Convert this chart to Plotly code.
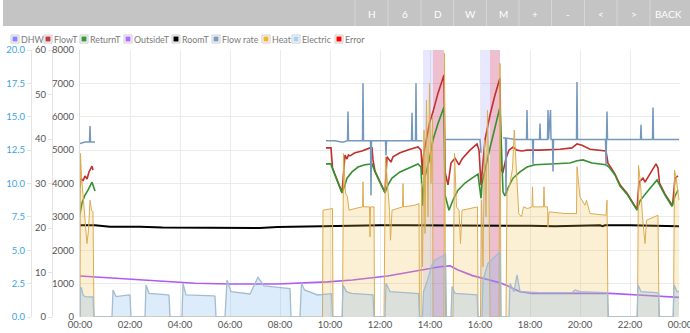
import datetime as dt
import plotly.graph_objects as go

W, H = 690, 333
DAY = dt.datetime(2024, 1, 15)
FONT = "Lato"

# ---------------- series data: (hour of day, value) ----------------
# FlowT / ReturnT / RoomT / OutsideT in degC
flow_t = [
    (0.00, 29.0), (0.04, 31.2), (0.12, 30.6), (0.20, 31.7), (0.28, 31.0), (0.36, 32.6),
    (0.48, 33.9), (0.52, 33.0), (0.53, None),
    (9.84, 38.0), (10.04, 38.0), (10.10, 33.5), (10.28, 31.0), (10.40, 29.2), (10.48, 28.0),
    (10.60, 36.4), (10.68, 35.5), (10.74, 36.4), (10.80, 36.2), (11.00, 36.9), (11.28, 37.3),
    (11.60, 38.0), (11.68, 38.0), (11.72, 35.3), (11.80, 32.8), (12.00, 30.3), (12.20, 28.0),
    (12.28, 36.0), (12.36, 35.5), (12.44, 34.8), (12.52, 36.0), (12.80, 36.9), (13.20, 37.7),
    (13.52, 38.2), (13.64, 37.5), (13.70, 32.0), (13.74, 36.4), (13.86, 40.4), (13.98, 43.6),
    (14.12, 46.1), (14.32, 50.3), (14.56, 54.4), (14.60, 32.6), (14.72, 29.7), (14.84, 34.6),
    (15.00, 35.7), (15.16, 34.2), (15.28, 35.5), (15.60, 37.5), (15.88, 38.9), (15.96, 37.5),
    (16.04, 29.7), (16.20, 39.8), (16.40, 45.4), (16.60, 49.9), (16.80, 53.7), (16.84, 33.0),
    (16.92, 32.6), (17.04, 35.7), (17.16, 37.5), (17.32, 38.2), (17.48, 37.5), (17.68, 37.3),
    (17.88, 37.5), (18.40, 37.5), (19.20, 37.7), (19.68, 38.0), (19.88, 38.9), (20.08, 38.6),
    (20.40, 37.7), (20.80, 37.5), (21.04, 37.3), (21.12, 34.5), (21.20, 33.9), (21.40, 32.1),
    (21.60, 29.7), (21.88, 27.8), (22.28, 24.2), (22.36, 30.3), (22.52, 31.2), (22.60, 30.3),
    (22.80, 32.1), (23.04, 34.4), (23.12, 33.5), (23.18, 30.1), (23.40, 27.6), (23.70, 25.0),
    (23.80, 31.2), (23.92, 31.7),
]
return_t = [
    (0.00, 23.1), (0.08, 25.6), (0.20, 27.4), (0.32, 28.5), (0.48, 30.3), (0.60, 28.3), (0.61, None),
    (9.84, 34.4), (10.04, 34.4), (10.12, 33.0), (10.28, 30.8), (10.40, 29.0), (10.48, 27.9),
    (10.60, 29.7), (10.68, 31.2), (10.88, 32.6), (11.12, 33.7), (11.40, 34.2), (11.68, 34.4),
    (11.80, 32.6), (12.00, 30.1), (12.20, 27.9), (12.32, 29.7), (12.48, 31.2), (12.80, 32.6),
    (13.20, 33.7), (13.52, 34.4), (13.64, 33.7), (13.70, 25.0), (13.76, 30.8), (13.96, 35.0),
    (14.12, 39.8), (14.32, 43.5), (14.56, 47.2), (14.60, 27.4), (14.76, 24.0), (14.92, 26.3),
    (15.12, 28.5), (15.40, 30.1), (15.68, 31.2), (15.92, 32.1), (16.04, 26.7), (16.08, 30.0),
    (16.40, 38.0), (16.60, 42.8), (16.80, 47.2), (16.92, 28.1), (17.00, 27.2), (17.12, 29.0),
    (17.32, 31.2), (17.60, 32.6), (17.88, 33.7), (18.20, 34.2), (18.80, 34.4), (19.60, 34.6),
    (19.88, 35.1), (20.12, 35.3), (20.48, 34.6), (21.04, 34.2), (21.16, 33.7), (21.40, 31.9),
    (21.60, 29.4), (21.88, 27.6), (22.28, 24.0), (22.40, 26.1), (22.68, 28.1), (23.08, 30.8),
    (23.16, 29.9), (23.40, 27.4), (23.68, 24.9), (23.80, 27.2), (23.92, 28.5),
]
room_t = [
    (0.0, 20.6), (0.6, 20.6), (1.2, 20.3), (2.4, 20.3), (3.3, 20.1), (4.2, 20.1), (5.2, 20.0),
    (6.5, 20.0), (7.2, 20.0), (7.9, 20.2), (9.0, 20.3), (10.0, 20.5), (11.0, 20.5), (12.0, 20.6),
    (13.0, 20.6), (14.0, 20.6), (15.0, 20.6), (16.0, 20.6), (17.0, 20.5), (18.0, 20.5),
    (19.0, 20.4), (20.0, 20.5), (20.8, 20.6), (20.9, 20.4), (21.0, 20.6), (22.0, 20.6),
    (23.0, 20.5), (23.96, 20.4),
]
outside_t = [
    (0.0, 9.2), (1.25, 8.8), (2.5, 8.4), (3.25, 8.1), (4.6, 7.6), (6.0, 7.4), (7.9, 7.4),
    (9.9, 7.9), (10.9, 8.3), (12.3, 9.2), (13.6, 10.6), (14.4, 11.3), (14.8, 11.5), (15.1, 10.6),
    (15.7, 9.3), (16.4, 8.3), (16.8, 7.7), (17.1, 7.0), (17.6, 5.7), (18.1, 5.3), (19.6, 5.3),
    (21.2, 5.3), (22.5, 4.9), (23.96, 4.4),
]
# Flow rate in L/min
flow_rate = [
    (0.00, 13.0), (0.20, 13.1), (0.38, 13.1), (0.40, 14.3), (0.42, 13.1), (0.60, 13.1), (0.61, None),
    (9.84, 13.2), (10.20, 13.2), (10.50, 13.1), (10.70, 13.2), (10.72, 15.4), (10.74, 13.2),
    (11.00, 13.2), (11.30, 13.2), (11.32, 17.5), (11.34, 13.2), (11.62, 13.2), (11.64, 9.1),
    (11.66, 13.2), (12.00, 13.2), (12.22, 13.2), (12.24, 12.1), (12.26, 13.2), (12.60, 13.2),
    (13.00, 13.2), (13.26, 13.2), (13.28, 15.3), (13.30, 13.2), (13.42, 13.2), (13.44, 17.5),
    (13.46, 13.2), (13.70, 13.2), (13.71, None),
    (14.58, 13.3), (15.00, 13.3), (15.50, 13.3), (16.00, 13.3), (16.04, 12.3), (16.05, None),
    (16.92, 13.4), (17.02, 13.4), (17.04, 9.1), (17.06, 13.4), (17.40, 13.3), (17.86, 13.3),
    (17.88, 15.5), (17.90, 13.3), (18.10, 13.3), (18.12, 11.4), (18.14, 13.3), (18.38, 13.3),
    (18.40, 14.5), (18.42, 13.3), (18.70, 13.3), (18.72, 15.5), (18.74, 13.3), (18.82, 15.5),
    (18.84, 13.3), (18.90, 13.3), (18.92, 10.9), (18.94, 13.3), (19.50, 13.3), (19.86, 13.3),
    (19.88, 17.6), (19.90, 13.3), (20.50, 13.3), (21.02, 13.3), (21.04, 11.3), (21.06, 13.3),
    (21.08, 15.4), (21.10, 13.3), (21.60, 13.3), (22.20, 13.3), (22.42, 13.3), (22.44, 14.4),
    (22.46, 13.3), (22.90, 13.3), (22.92, 15.7), (22.94, 13.3), (23.50, 13.3), (23.96, 13.3),
]
# Heat output and electric input in W
heat = [
    (0.00, 0), (0.02, 4900), (0.06, 4200), (0.12, 3600), (0.20, 2900), (0.28, 2200), (0.34, 2600),
    (0.40, 3500), (0.46, 3200), (0.52, 3150), (0.56, 0),
    (9.70, 0), (9.72, 3200), (10.10, 3250), (10.12, 0),
    (10.50, 0), (10.54, 4900), (10.62, 3700), (10.70, 3600), (10.76, 3200), (11.00, 3250),
    (11.30, 3300), (11.32, 4050), (11.34, 3300), (11.58, 3300), (11.60, 2400), (11.62, 3300),
    (11.76, 3300), (11.78, 0),
    (12.16, 0), (12.22, 4800), (12.38, 3200), (12.42, 2300), (12.48, 3200), (12.90, 3300),
    (12.92, 4000), (12.94, 3300), (13.40, 3350), (13.56, 3400), (13.58, 0),
    (13.64, 0), (13.66, 4000), (13.70, 1500), (13.76, 5600), (13.80, 2500), (13.86, 6500),
    (13.92, 3000), (13.98, 7000), (14.04, 4000), (14.10, 6000), (14.12, 0), (14.56, 0),
    (14.58, 7900), (14.62, 0),
    (14.92, 0), (14.98, 4900), (15.06, 3300), (15.16, 3200), (15.22, 2200), (15.28, 3200),
    (15.60, 3250), (15.90, 3300), (15.92, 0),
    (16.02, 0), (16.06, 3500), (16.12, 1500), (16.18, 5300), (16.24, 3000), (16.30, 6200),
    (16.36, 4000), (16.40, 0), (16.76, 0), (16.80, 7600), (16.84, 0),
    (17.04, 0), (17.08, 3700), (17.20, 4000), (17.30, 4450), (17.37, 5600), (17.42, 4800),
    (17.48, 3800), (17.55, 3100), (17.66, 3000), (17.74, 3300), (17.90, 3250), (18.08, 3300),
    (18.10, 3900), (18.12, 3300), (18.54, 3300), (18.56, 3900), (18.58, 3300), (18.70, 3300),
    (18.72, 2700), (18.76, 3150), (19.40, 3100), (19.86, 3100), (19.88, 4500), (20.00, 3600),
    (20.20, 3350), (20.26, 3500), (20.40, 3100), (21.04, 3050), (21.08, 3500), (21.12, 0),
    (22.30, 0), (22.34, 4550), (22.42, 4000), (22.50, 3000), (22.60, 2200), (22.66, 2900),
    (23.12, 3050), (23.16, 0),
    (23.74, 0), (23.78, 4400), (23.84, 4200), (23.90, 3800), (23.96, 3500),
]
electric = [
    (0.00, 0), (0.02, 900), (0.06, 860), (0.12, 660), (0.20, 610), (0.45, 610), (0.52, 600), (0.56, 0),
    (1.28, 0), (1.32, 810), (1.44, 610), (1.96, 660), (2.00, 650), (2.04, 0),
    (2.60, 0), (2.64, 960), (2.76, 710), (3.52, 660), (3.56, 650), (3.60, 0),
    (4.08, 0), (4.12, 1010), (4.24, 660), (5.36, 630), (5.40, 620), (5.44, 0),
    (5.80, 0), (5.88, 1110), (6.04, 760), (6.80, 690), (7.12, 1190), (7.36, 930), (8.30, 860),
    (8.40, 850), (8.44, 0),
    (8.80, 0), (8.86, 1010), (8.98, 810), (9.50, 660), (9.90, 690), (10.06, 700), (10.10, 0),
    (10.48, 0), (10.52, 960), (10.66, 760), (10.86, 710), (11.72, 660), (11.76, 0),
    (12.20, 0), (12.24, 1010), (12.40, 760), (13.44, 710), (13.54, 700), (13.58, 0),
    (13.70, 0), (13.74, 760), (13.90, 1100), (14.10, 1600), (14.20, 1710), (14.56, 1850),
    (14.62, 1900), (14.66, 0),
    (14.84, 0), (14.88, 910), (15.00, 710), (15.88, 660), (15.92, 0),
    (16.08, 0), (16.12, 1110), (16.32, 1610), (16.80, 1950), (16.84, 0),
    (17.16, 0), (17.20, 1010), (17.36, 760), (17.48, 1260), (17.60, 760), (18.40, 730),
    (19.68, 730), (19.80, 810), (20.00, 760), (21.04, 730), (21.10, 720), (21.14, 0),
    (22.28, 0), (22.32, 960), (22.44, 760), (23.04, 730), (23.14, 720), (23.18, 0),
    (23.72, 0), (23.76, 960), (23.88, 760), (23.96, 760),
]
# State periods (start hour, end hour)
dhw_periods = [(13.72, 14.12), (16.04, 16.40)]
error_periods = [(14.12, 14.56), (16.40, 16.80)]

legend_items = ["DHW", "FlowT", "ReturnT", "OutsideT", "RoomT", "Flow rate", "Heat", "Electric", "Error"]
buttons = ["H", "6", "D", "W", "M", "+", "-", "<", ">", "BACK"]

# ---------------- styling ----------------
COL = {
    "DHW": "#8585ff", "FlowT": "#c23b3b", "ReturnT": "#3d963d", "OutsideT": "#b36bff",
    "RoomT": "#000000", "Flow rate": "#7c9cbf", "Heat": "#efb534", "Electric": "#a6d3f2",
    "Error": "#ff0000",
}


def ts(h):
    return DAY + dt.timedelta(hours=h)


def split(series):
    return [ts(h) for h, _ in series], [v for _, v in series]


def fx(x):  # pixel -> paper x
    return x / W


def fy(y):  # pixel -> paper y
    return (H - y) / H


fig = go.Figure()

# state bands as filled traces on a hidden 0..1 axis, drawn underneath everything else
for periods, color in [(dhw_periods, "rgba(120,120,255,0.18)"),
                       (error_periods, "rgba(200,60,110,0.33)")]:
    bx, by = [], []
    for a, b in periods:
        bx += [ts(a), ts(a), ts(b), ts(b), ts(b)]
        by += [0, 1, 1, 0, None]
    fig.add_trace(go.Scatter(x=bx, y=by, mode="lines", fill="toself", fillcolor=color,
                             line=dict(width=0), hoverinfo="skip", yaxis="y"))

x, y = split(heat)
fig.add_trace(go.Scatter(x=x, y=y, mode="lines", fill="tozeroy",
                         fillcolor="rgba(240,185,60,0.22)",
                         line=dict(color="#dcac52", width=1), yaxis="y4"))
x, y = split(electric)
fig.add_trace(go.Scatter(x=x, y=y, mode="lines", fill="tozeroy",
                         fillcolor="rgba(120,180,235,0.25)",
                         line=dict(color="#a3bccf", width=1.3), yaxis="y4"))

for series, color, width in [(outside_t, "#ad5cf2", 1.6), (room_t, "#000000", 2),
                             (flow_t, "#c0302e", 1.6), (return_t, "#35902f", 1.6)]:
    x, y = split(series)
    fig.add_trace(go.Scatter(x=x, y=y, mode="lines", connectgaps=False,
                             line=dict(color=color, width=width), yaxis="y2"))

x, y = split(flow_rate)
fig.add_trace(go.Scatter(x=x, y=y, mode="lines", connectgaps=False,
                         line=dict(color="#7598bd", width=1.5), yaxis="y3"))

shapes = []
annotations = []

# toolbar
shapes.append(dict(type="rect", xref="paper", yref="paper", x0=fx(3), x1=1, y0=fy(26), y1=1,
                   fillcolor="#c4c4c4", line=dict(width=0)))
sep_x = [355, 388, 421, 453.5, 486.5, 519, 551.5, 584.5, 617, 650]
btn_x = [372.5, 405, 437.5, 470, 503, 535, 568, 601, 634, 668.5]
for sx in sep_x:
    shapes.append(dict(type="line", xref="paper", yref="paper", x0=fx(sx), x1=fx(sx),
                       y0=fy(26), y1=1, line=dict(color="#d6d6d6", width=1)))
for label, bx in zip(buttons, btn_x):
    annotations.append(dict(text=label, x=fx(bx), y=fy(13.5), xref="paper", yref="paper",
                            showarrow=False, xanchor="center", yanchor="middle",
                            font=dict(family=FONT, size=10, color="#ffffff")))

# legend row
sq_x = [11, 44, 80, 124, 172, 212, 262, 292, 335]
for label, sx in zip(legend_items, sq_x):
    shapes.append(dict(type="rect", xref="paper", yref="paper", x0=fx(sx), x1=fx(sx + 8),
                       y0=fy(43), y1=fy(35), fillcolor="#ffffff",
                       line=dict(color="#cccccc", width=1)))
    shapes.append(dict(type="rect", xref="paper", yref="paper", x0=fx(sx + 1.5), x1=fx(sx + 6.5),
                       y0=fy(41.5), y1=fy(36.5), fillcolor=COL[label],
                       line=dict(width=0)))
    annotations.append(dict(text=label, x=fx(sx + 8), y=fy(39.5), xref="paper", yref="paper",
                            showarrow=False, xanchor="left", yanchor="middle",
                            font=dict(family=FONT, size=8.9, color="#7a7a7a")))

tick_font = dict(family=FONT, size=9.5, color="#555555")
fig.update_layout(
    width=W, height=H,
    margin=dict(l=0, r=0, t=0, b=0),
    paper_bgcolor="#ffffff", plot_bgcolor="#ffffff",
    showlegend=False,
    shapes=shapes, annotations=annotations,
    xaxis=dict(domain=[fx(80), fx(680)], type="date", range=[ts(0), ts(24)],
               tick0=ts(0), dtick=2 * 3600 * 1000, tickformat="%H:%M",
               showgrid=True, gridcolor="#ebebeb", gridwidth=1, zeroline=False,
               showline=False, ticks="", tickfont=tick_font, automargin=False,
               ticklabeloverflow="allow", anchor="y"),
    yaxis=dict(domain=[fy(317), fy(50)], range=[0, 1], showgrid=False, zeroline=False,
               showticklabels=False, showline=False, ticks="", automargin=False, anchor="x"),
    yaxis4=dict(overlaying="y", anchor="x", side="left", range=[0, 8000], dtick=1000,
                showgrid=True, gridcolor="#ebebeb", zeroline=False,
                showline=True, linecolor="#dddddd", ticks="", ticklabelstandoff=3,
                tickfont=tick_font, automargin=False),
    yaxis2=dict(overlaying="y", anchor="free", position=fx(52), side="left",
                range=[0, 60], dtick=10, showgrid=False, zeroline=False,
                showline=True, linecolor="#e4e4e4", ticks="outside", ticklen=4,
                tickcolor="#e4e4e4", tickfont=tick_font, automargin=False),
    yaxis3=dict(overlaying="y", anchor="free", position=fx(31), side="left",
                range=[0, 20], dtick=2.5, tickformat=".1f", showgrid=False, zeroline=False,
                showline=True, linecolor="#e4e4e4", ticks="outside", ticklen=4,
                tickcolor="#e4e4e4",
                tickfont=dict(family=FONT, size=9.5, color="#3ea3e3"), automargin=False),
)

fig.write_html("out.html")
